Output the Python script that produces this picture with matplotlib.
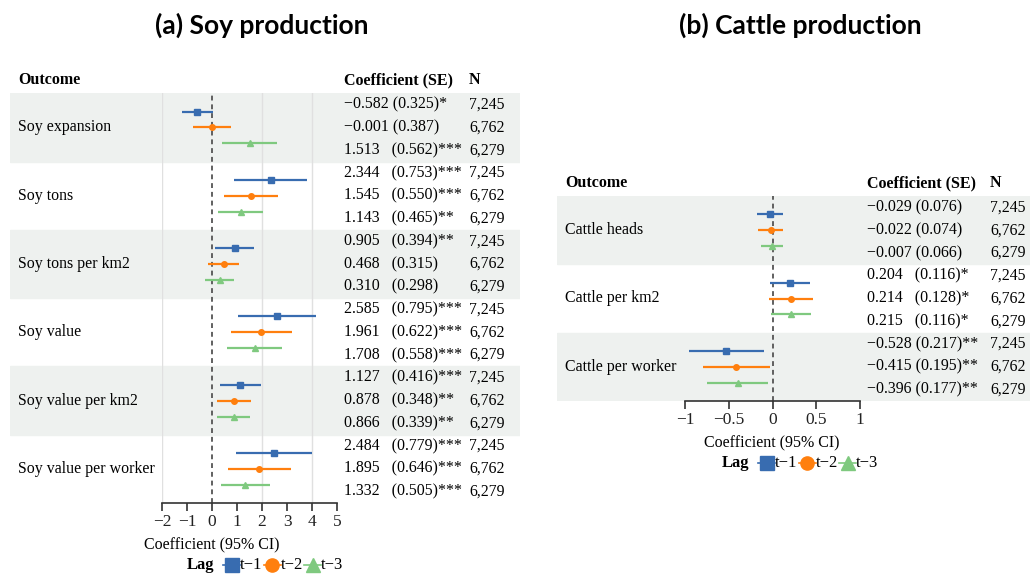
import numpy as np
import matplotlib.pyplot as plt
from matplotlib.lines import Line2D

# data
lags = ["t\u22121", "t\u22122", "t\u22123"]
n_obs = ["7,245", "6,762", "6,279"]

soy_outcomes = ["Soy expansion", "Soy tons", "Soy tons per km2", "Soy value",
                "Soy value per km2", "Soy value per worker"]
soy_coef = [[-0.582, -0.001, 1.513], [2.344, 1.545, 1.143], [0.905, 0.468, 0.310],
            [2.585, 1.961, 1.708], [1.127, 0.878, 0.866], [2.484, 1.895, 1.332]]
soy_se = [[0.325, 0.387, 0.562], [0.753, 0.550, 0.465], [0.394, 0.315, 0.298],
          [0.795, 0.622, 0.558], [0.416, 0.348, 0.339], [0.779, 0.646, 0.505]]
soy_stars = [["*", "", "***"], ["***", "***", "**"], ["**", "", ""],
             ["***", "***", "***"], ["***", "**", "**"], ["***", "***", "***"]]

cattle_outcomes = ["Cattle heads", "Cattle per km2", "Cattle per worker"]
cattle_coef = [[-0.029, -0.022, -0.007], [0.204, 0.214, 0.215], [-0.528, -0.415, -0.396]]
cattle_se = [[0.076, 0.074, 0.066], [0.116, 0.128, 0.116], [0.217, 0.195, 0.177]]
cattle_stars = [["", "", ""], ["*", "*", "*"], ["**", "**", "**"]]

colors = ["#386cb0", "#ff7f0e", "#7fc97f"]
markers = ["s", "o", "^"]
msizes = [4.0, 4.0, 4.6]
offsets = [-0.7, 0, 0.7]

plt.rcParams['font.family'] = 'serif'
plt.rcParams['font.serif'] = ['Liberation Serif', 'DejaVu Serif']

W, H = 1035, 576
fig = plt.figure(figsize=(W / 100, H / 100), dpi=100)

band_col = "#eef1ef"
fs = 11.4


def px_axes(left, right, top, bottom):
    return fig.add_axes([left / W, 1 - bottom / H, (right - left) / W, (bottom - top) / H])


def fmt(v):
    if v < 0:
        return "{:.3f}".format(v).replace("-", "\u2212") + " "
    return "{:.3f}".format(v) + "   "


def panel(title, title_x, outcomes, coef, se, stars, bg_box, plot_lr, xlim, xticks,
          xticklabels, grid_x, col_x, head_y, xlabel_x, legend_y, lag_x):
    left, right, top, bottom = bg_box
    nrows = 3 * len(outcomes)
    bg = px_axes(left, right, top, bottom)
    bg.set_xlim(0, 1)
    bg.set_ylim(nrows - 0.5, -0.5)
    bg.axis("off")
    for b in range(len(outcomes)):
        if b % 2 == 0:
            bg.axhspan(3 * b - 0.5, 3 * b + 2.5, color=band_col, zorder=0)

    ax = px_axes(plot_lr[0], plot_lr[1], top, bottom)
    ax.patch.set_alpha(0)
    ax.set_xlim(*xlim)
    ax.set_ylim(nrows - 0.5, -0.5)
    for g in grid_x:
        ax.axvline(g, color="#e0e0e0", lw=1, zorder=1)
    ax.axvline(0, color="#606060", ls=(0, (2.5, 2)), lw=1.4, zorder=2)
    for b in range(len(outcomes)):
        for k in range(3):
            c = coef[b][k]
            s = se[b][k]
            y = 3 * b + 1 + offsets[k]
            ax.plot([c - 1.96 * s, c + 1.96 * s], [y, y], color=colors[k], lw=1.6, zorder=3,
                    solid_capstyle="butt")
            ax.plot(c, y, marker=markers[k], color=colors[k], ms=msizes[k], zorder=4)
    for sp in ["top", "right", "left"]:
        ax.spines[sp].set_visible(False)
    ax.spines["bottom"].set_color("#333333")
    ax.spines["bottom"].set_linewidth(1.2)
    ax.set_yticks([])
    ax.set_xticks(xticks)
    ax.set_xticklabels(xticklabels, fontsize=12.5, color="#222222")
    ax.tick_params(axis="x", length=6, width=1.2, color="#333333", pad=2)

    tr = lambda xp: (xp / W)
    # header
    yh = 1 - head_y / H
    fig.text(tr(col_x[0]), yh, "Outcome", fontweight="bold", fontsize=11.5, va="center")
    fig.text(tr(col_x[1]), yh, "Coefficient (SE)", fontweight="bold", fontsize=11.5,
             va="center")
    fig.text(tr(col_x[2]), yh, "N", fontweight="bold", fontsize=11.5, va="center")
    rowh = (bottom - top) / nrows
    for b, name in enumerate(outcomes):
        yc = top + (3 * b + 1.5) * rowh
        fig.text(tr(col_x[0]), 1 - yc / H, name, fontsize=fs, va="center")
        for k in range(3):
            yr = top + (3 * b + k + 0.5) * rowh
            txt = fmt(coef[b][k]) + "(" + "{:.3f}".format(se[b][k]) + ")" + stars[b][k]
            fig.text(tr(col_x[1]), 1 - yr / H, txt, fontsize=fs, va="center")
            fig.text(tr(col_x[2]), 1 - yr / H, n_obs[k], fontsize=fs, va="center")

    fig.text(tr(title_x), 1 - 25 / H, title, fontfamily="Lato", fontweight="bold",
             fontsize=19, ha="center", va="center")
    fig.text(tr(xlabel_x), 1 - (bottom + 42) / H, "Coefficient (95% CI)",
             fontsize=11.5, ha="center", va="center")

    # legend, drawn by hand
    ly = 1 - legend_y / H
    fig.text(tr(lag_x), ly, "Lag", fontweight="bold", fontsize=12, va="center")
    for k in range(3):
        xc = lag_x + 44.5 + 40.5 * k
        fig.add_artist(Line2D([tr(xc - 8.5), tr(xc), tr(xc + 8.5)], [ly, ly, ly],
                              transform=fig.transFigure, color=colors[k], lw=1.2,
                              marker=markers[k], markevery=[1], ms=9.5))
        fig.text(tr(xc + 8.5), ly, lags[k], fontsize=12, va="center")


panel("(a) Soy production", 262, soy_outcomes, soy_coef, soy_se, soy_stars,
      (10, 520, 93.3, 503), (162, 337), (-2, 5), range(-2, 6),
      ["\u22122", "\u22121", "0", "1", "2", "3", "4", "5"], [-2, 2, 4],
      (18, 344, 469), 80, 212, 565, 187)

panel("(b) Cattle production", 800, cattle_outcomes, cattle_coef, cattle_se, cattle_stars,
      (557, 1030, 196, 401), (685, 860), (-1, 1), [-1, -0.5, 0, 0.5, 1],
      ["\u22121", "\u22120.5", "0", "0.5", "1"], [],
      (565, 867, 990), 183, 772, 463, 722)

fig.savefig("out.png", dpi=100)
